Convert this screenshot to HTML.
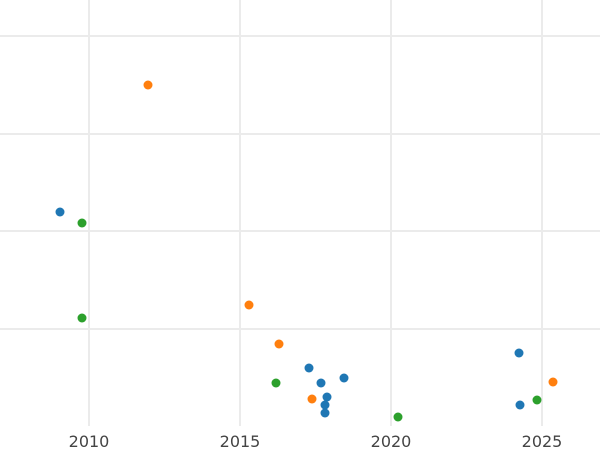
<!DOCTYPE html>
<html><head><style>body{margin:0;background:#fff}svg{display:block}</style></head><body>
<svg width="600" height="450" xmlns="http://www.w3.org/2000/svg">
<g stroke="#ebebeb" stroke-width="2">
<line x1="0" y1="36" x2="600" y2="36"/><line x1="0" y1="134" x2="600" y2="134"/>
<line x1="0" y1="231" x2="600" y2="231"/><line x1="0" y1="329" x2="600" y2="329"/>
<line x1="89" y1="0" x2="89" y2="426"/><line x1="240" y1="0" x2="240" y2="426"/>
<line x1="391" y1="0" x2="391" y2="426"/><line x1="542" y1="0" x2="542" y2="426"/>
</g>
<g font-family="DejaVu Sans, sans-serif" font-size="16" fill="#444" text-anchor="middle">
<text x="89" y="447">2010</text><text x="240" y="447">2015</text><text x="391" y="447">2020</text><text x="542" y="447">2025</text>
</g>
<g fill="#1f77b4">
<circle cx="60" cy="212" r="4.5"/><circle cx="309" cy="368" r="4.5"/><circle cx="321" cy="383" r="4.5"/><circle cx="344" cy="378" r="4.5"/><circle cx="327" cy="397" r="4.5"/><circle cx="325" cy="405" r="4.5"/><circle cx="325" cy="413" r="4.5"/><circle cx="519" cy="353" r="4.5"/><circle cx="520" cy="405" r="4.5"/>
</g>
<g fill="#ff7f0e">
<circle cx="148" cy="85" r="4.5"/><circle cx="249" cy="305" r="4.5"/><circle cx="279" cy="344" r="4.5"/><circle cx="312" cy="399" r="4.5"/><circle cx="553" cy="382" r="4.5"/>
</g>
<g fill="#2ca02c">
<circle cx="82" cy="223" r="4.5"/><circle cx="82" cy="318" r="4.5"/><circle cx="276" cy="383" r="4.5"/><circle cx="398" cy="417" r="4.5"/><circle cx="537" cy="400" r="4.5"/>
</g>
</svg>
</body></html>
